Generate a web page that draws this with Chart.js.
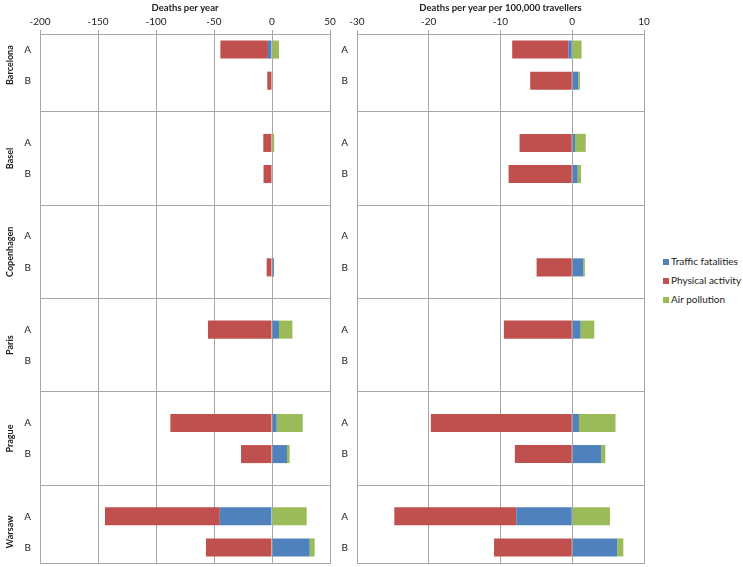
<!DOCTYPE html>
<html lang="en">
<head>
    <meta charset="UTF-8">
    <title>Deaths per year by city</title>
    <style>
        body {
            margin: 0;
            background: #fff;
            font-family: Lato, "Open Sans", sans-serif;
        }
        .panel {
            position: absolute;
            top: 0;
            height: 567px;
        }
        #leftPanel { left: 0; width: 336px; }
        #rightPanel { left: 336px; width: 314px; }
        #legend {
            position: absolute;
            left: 663px;
            top: 252px;
            font-size: 10px;
            color: #222;
        }
        #legend div {
            height: 19px;
            line-height: 19px;
            white-space: nowrap;
        }
        #legend span {
            display: inline-block;
            width: 6px;
            height: 6px;
            margin-right: 2px;
            vertical-align: 0px;
        }
    </style>
    <script src="https://cdn.jsdelivr.net/npm/chart.js"></script>
</head>
<body>
    <div class="panel" id="leftPanel"><canvas id="yearChart"></canvas></div>
    <div class="panel" id="rightPanel"><canvas id="rateChart"></canvas></div>
    <div id="legend"></div>

    <script>
        // cities, each with scenario A and B (12 rows, city by city)
        const cities = ['Barcelona', 'Basel', 'Copenhagen', 'Paris', 'Prague', 'Warsaw'];
        const scenarios = ['A', 'B'];

        // Deaths per year
        const trafficYear  = [-3.5, 0.5,  0.4, 0.5,  null, 1.6,  6.0, null,  4.0, 12.9,  -45, 32.5];
        const physicalYear = [-41, -4.1,  -7.5, -7.3,  null, -4.6,  -55.2, null,  -87.6, -26.7,  -99, -56.9];
        const airYear      = [6.0, 0.15,  1.5, 0.3,  null, 0.2,  11.6, null,  22.5, 2.3,  29.9, 4.3];

        // Deaths per year per 100,000 travellers
        const trafficRate  = [-0.55, 0.84,  0.38, 0.75,  null, 1.53,  1.17, null,  0.93, 4.05,  -7.8, 6.28];
        const physicalRate = [-7.82, -5.86,  -7.34, -8.87,  null, -4.97,  -9.53, null,  -19.7, -8.0,  -17.0, -10.9];
        const airRate      = [1.3, 0.24,  1.5, 0.47,  null, 0.23,  1.9, null,  5.1, 0.56,  5.26, 0.84];

        const seriesNames = ['Traffic fatalities', 'Physical activity', 'Air pollution'];
        const seriesColors = ['#4F81BD', '#C0504D', '#9BBB59'];

        const gridColor = '#A6A6A6';
        const textColor = '#222';

        // put an empty slot between the cities
        function withGaps(values) {
            const out = [];
            values.forEach((v, i) => {
                if (i > 0 && i % 2 === 0) out.push(null);
                out.push(v);
            });
            return out;
        }

        const rowLabels = withGaps(cities.flatMap(() => scenarios)).map(v => v === null ? '' : v);

        // frame round the plot + city names
        const framePlugin = {
            id: 'frame',
            afterDatasetsDraw(chart, args, opts) {
                const { ctx, chartArea: a, scales } = chart;
                ctx.save();
                ctx.strokeStyle = gridColor;
                ctx.lineWidth = 1;
                ctx.strokeRect(a.left + 0.5, a.top + 0.5, a.right - a.left, a.bottom - a.top);
                if (opts.cityNames) {
                    ctx.fillStyle = textColor;
                    ctx.font = 'bold 9px Lato, "Open Sans", sans-serif';
                    ctx.textAlign = 'center';
                    ctx.textBaseline = 'middle';
                    cities.forEach((city, i) => {
                        const y = (scales.y.getPixelForValue(i * 3) + scales.y.getPixelForValue(i * 3 + 1)) / 2;
                        ctx.save();
                        ctx.translate(10, y);
                        ctx.rotate(-Math.PI / 2);
                        ctx.fillText(city, 0, 0);
                        ctx.restore();
                    });
                }
                ctx.restore();
            }
        };

        function makeChart(canvasId, title, data, min, max, step, axisWidth, cityNames) {
            return new Chart(document.getElementById(canvasId), {
                type: 'bar',
                data: {
                    labels: rowLabels,
                    datasets: data.map((values, i) => ({
                        label: seriesNames[i],
                        data: withGaps(values),
                        backgroundColor: seriesColors[i],
                        borderWidth: 0,
                        categoryPercentage: 1,
                        barPercentage: 0.58
                    }))
                },
                options: {
                    indexAxis: 'y',
                    responsive: true,
                    maintainAspectRatio: false,
                    animation: false,
                    layout: { padding: { top: 0, right: 6, bottom: 4, left: 0 } },
                    plugins: {
                        legend: { display: false },
                        tooltip: { enabled: false },
                        frame: { cityNames: cityNames }
                    },
                    scales: {
                        x: {
                            position: 'top',
                            stacked: true,
                            min: min,
                            max: max,
                            ticks: {
                                stepSize: step,
                                padding: 2,
                                color: textColor,
                                font: { size: 10, family: 'Lato' }
                            },
                            grid: { color: gridColor, tickLength: 4 },
                            border: { color: gridColor },
                            title: {
                                display: true,
                                text: title,
                                color: textColor,
                                font: { size: 9.5, weight: 'bold', family: 'Lato' },
                                padding: { top: 2, bottom: 0 }
                            },
                            afterFit(scale) {
                                scale.height = 34;
                                scale.paddingLeft = 0;
                                scale.paddingRight = 0;
                            }
                        },
                        y: {
                            stacked: true,
                            ticks: {
                                padding: 9,
                                color: textColor,
                                autoSkip: false,
                                font: { size: 10, family: 'Lato' }
                            },
                            grid: {
                                offset: false,
                                drawTicks: false,
                                color: ctx => rowLabels[ctx.index] === '' ? gridColor : 'rgba(0,0,0,0)'
                            },
                            border: { color: gridColor },
                            afterFit(scale) {
                                scale.width = axisWidth;
                                scale.paddingTop = 0;
                                scale.paddingBottom = 0;
                            }
                        }
                    }
                },
                plugins: [framePlugin]
            });
        }

        makeChart('yearChart', 'Deaths per year',
            [trafficYear, physicalYear, airYear], -200, 50, 50, 40, true);
        makeChart('rateChart', 'Deaths per year per 100,000 travellers',
            [trafficRate, physicalRate, airRate], -30, 10, 10, 21, false);

        // legend
        const legend = document.getElementById('legend');
        seriesNames.forEach((name, i) => {
            const row = document.createElement('div');
            const box = document.createElement('span');
            box.style.background = seriesColors[i];
            row.appendChild(box);
            row.appendChild(document.createTextNode(name));
            legend.appendChild(row);
        });
    </script>
</body>
</html>
